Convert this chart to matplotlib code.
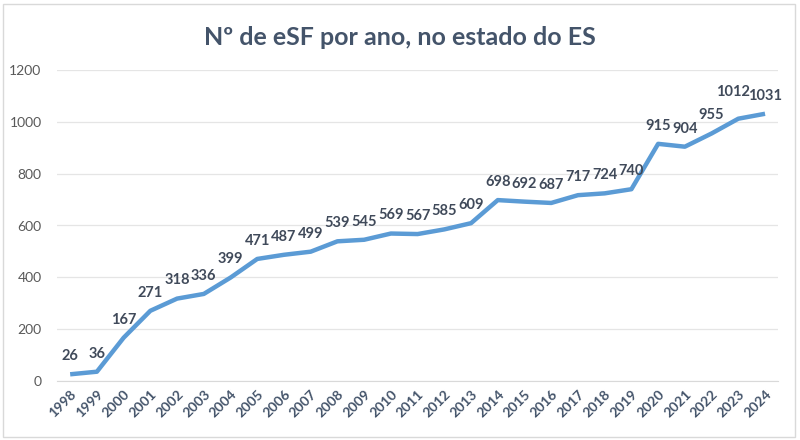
import matplotlib.pyplot as plt
from matplotlib.patches import Rectangle

anos = [str(a) for a in range(1998, 2025)]
esf = [26, 36, 167, 271, 318, 336, 399, 471, 487, 499, 539, 545, 569, 567,
       585, 609, 698, 692, 687, 717, 724, 740, 915, 904, 955, 1012, 1031]

plt.rcParams['font.family'] = ['Lato', 'DejaVu Sans']

fig = plt.figure(figsize=(8, 4.4), dpi=100)
ax = fig.add_axes([0.071, 0.134, 0.902, 0.707])

x = range(len(anos))
ax.plot(x, esf, color='#5B9BD5', linewidth=3.2, solid_capstyle='butt')

for xi, v in zip(x, esf):
    # 2023 label sits a bit higher/left, as in the original, to clear 2024's
    off = (-4, 14) if anos[xi] == '2023' else (0, 8)
    ax.annotate(str(v), (xi, v), xytext=off, textcoords='offset points',
                ha='center', va='bottom', fontsize=10.5, fontweight='bold',
                color='#404A5A')

ax.set_xlim(-0.5, len(anos) - 0.5)
ax.set_ylim(0, 1200)
ax.set_yticks(range(0, 1201, 200))
ax.set_xticks(list(x))
ax.set_xticklabels(anos, rotation=45, ha='right', rotation_mode='anchor',
                   fontsize=10, fontweight='bold', color='#44546A')
ax.tick_params(axis='y', labelsize=10, colors='#595959', length=0, pad=11)
ax.tick_params(axis='x', length=0, pad=5)
ax.grid(axis='y', color='#E5E5E5', linewidth=0.9)
ax.set_axisbelow(True)
for s in ['top', 'right', 'left']:
    ax.spines[s].set_visible(False)
ax.spines['bottom'].set_color('#D9D9D9')

fig.text(0.5, 0.915, 'Nº de eSF por ano, no estado do ES', ha='center',
         va='center', fontsize=18, fontweight='bold', color='#44546A')

fig.patches.append(Rectangle((0.004, 0.006), 0.99, 0.985, transform=fig.transFigure,
                             fill=False, edgecolor='#D9D9D9', linewidth=1))

fig.savefig('out.png', dpi=100)
